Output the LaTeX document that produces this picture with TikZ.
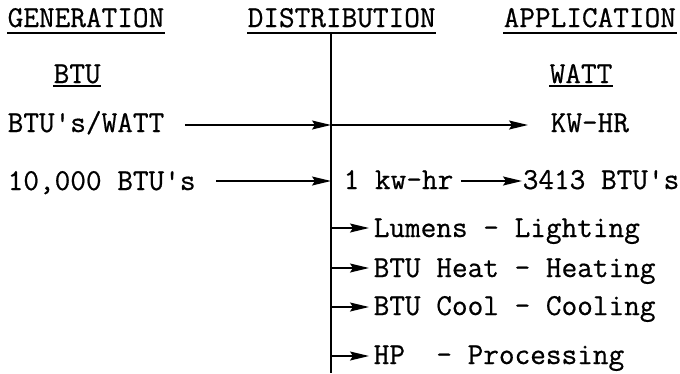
\documentclass[tikz,border=0pt]{standalone}
\usepackage{fontspec}
\setmonofont{Latin Modern Mono}[FakeBold=0.6]
\usepackage{tikz}
\usetikzlibrary{arrows.meta, positioning}

\begin{document}
\begin{tikzpicture}[
  x=1pt, y=-1pt,
  >={Stealth[length=19pt, width=9pt, inset=3pt]},
  line width=1.4pt,
  every node/.style={inner sep=0pt, anchor=base west, font=\ttfamily\fontsize{30.4}{34}\selectfont},
  uline/.style={line width=1.2pt}
]
\useasboundingbox (0,0) rectangle (680,373);

% column headings
\node (gen) at (7,27) {GENERATION};
\node (dist) at (247,27) {DISTRIBUTION};
\node (app) at (503,27) {APPLICATION};
\node (btu) at (53,83) {BTU};
\node (watt) at (549,83) {WATT};

\draw[uline] ([yshift=-6pt]gen.base west) -- ([yshift=-6pt]gen.base east);
\draw[uline] ([yshift=-6pt]dist.base west) -- ([yshift=-6pt]dist.base east);
\draw[uline] ([yshift=-6pt]app.base west) -- ([yshift=-6pt]app.base east);
\draw[uline] ([yshift=-3pt]btu.base west) -- ([yshift=-3pt]btu.base east);
\draw[uline] ([yshift=-3pt]watt.base west) -- ([yshift=-3pt]watt.base east);

% left column
\node (btuw) at (7,132) {BTU's/WATT};
\node (tenk) at (7,190) {10,000 BTU's};

% right column
\node (kwhr) at (550,132) {KW-HR};
\node (one) at (343,189) {1 kw-hr};
\node (btus) [anchor=base east] at (680,189) {3413 BTU's};
\node (lum) at (373,237) {Lumens - Lighting};
\node (heat) at (373,277) {BTU Heat - Heating};
\node (cool) at (373,315) {BTU Cool - Cooling};
\node (hp) at (373,364) {HP~~- Processing};

% distribution trunk
\coordinate (top) at (331,33);
\coordinate (bot) at (331,373);
\draw (top) -- (bot);

\coordinate (j1) at (331,125);
\coordinate (j2) at (331,181);
\coordinate (j3) at (331,228);
\coordinate (j4) at (331,268);
\coordinate (j5) at (331,307);
\coordinate (j6) at (331,356);

\draw[->] ([xshift=20pt]btuw.east |- j1) -- (j1);
\draw[->] (j1) -- ([xshift=-22pt]kwhr.west |- j1);
\draw[->] ([xshift=20pt]tenk.east |- j2) -- (j2);
\draw[->] ([xshift=7pt]one.east |- j2) -- (btus.west |- j2);
\draw[->] (j3) -- ([xshift=-4pt]lum.west |- j3);
\draw[->] (j4) -- ([xshift=-4pt]heat.west |- j4);
\draw[->] (j5) -- ([xshift=-4pt]cool.west |- j5);
\draw[->] (j6) -- ([xshift=-4pt]hp.west |- j6);
\end{tikzpicture}
\end{document}
